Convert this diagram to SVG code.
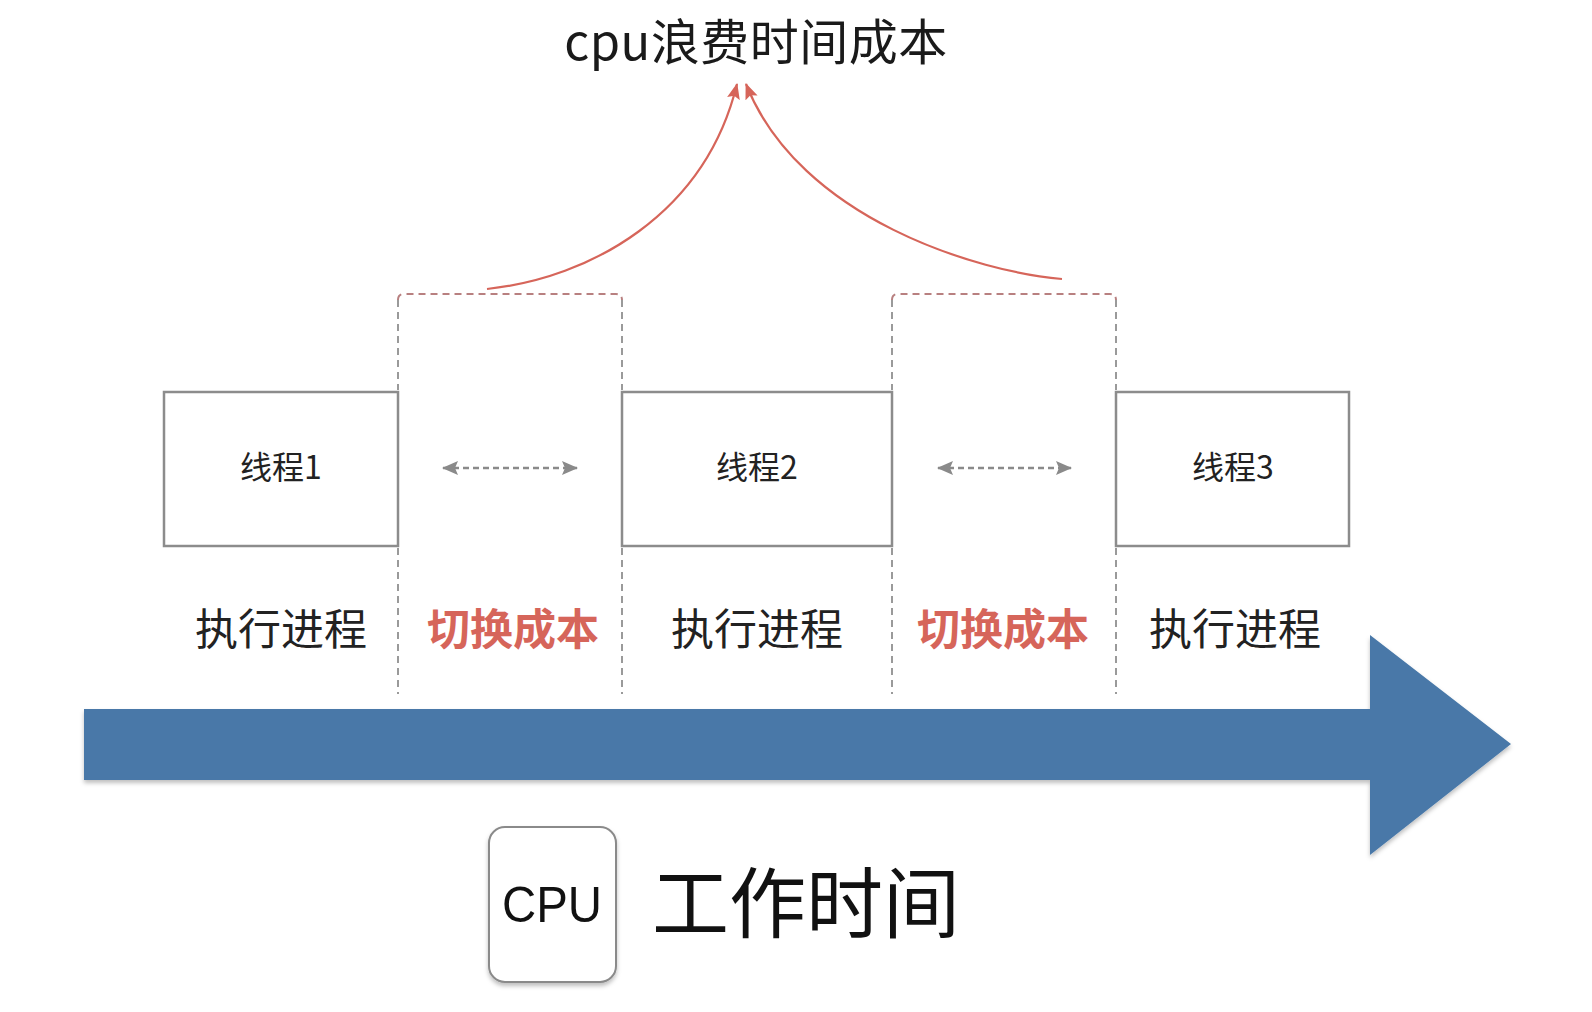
<svg xmlns="http://www.w3.org/2000/svg" width="1592" height="1012" viewBox="0 0 1592 1012">
  <style>
    .cjk { font-family: "Noto Sans CJK SC", "Liberation Sans", sans-serif; }
    .box { fill: #ffffff; stroke: #8c8c8c; stroke-width: 2.5; }
    .lbl { font-size: 32px; fill: #222222; text-anchor: middle; }
    .run { font-size: 43px; fill: #222222; text-anchor: middle; }
    .cost { font-size: 43px; fill: #d6655a; font-weight: bold; text-anchor: middle; }
    .dashv { fill: none; stroke: #9a9a9a; stroke-width: 2; stroke-dasharray: 7 5; }
    .dashtop { fill: none; stroke: #b88080; stroke-width: 2; stroke-dasharray: 7 5; }
    .swap { fill: none; stroke: #8a8a8a; stroke-width: 2.5; stroke-dasharray: 6 4; }
    .waste { fill: none; stroke: #d6655a; stroke-width: 2.2; }
  </style>
  <defs>
    <marker id="grayHead" viewBox="0 0 16 14" refX="15" refY="7" markerWidth="16" markerHeight="14" markerUnits="userSpaceOnUse" orient="auto-start-reverse">
      <path d="M0,0 L16,7 L0,14 L3,7 z" fill="#8a8a8a"/>
    </marker>
    <marker id="redHead" viewBox="0 0 16 13" refX="15" refY="6.5" markerWidth="16" markerHeight="13" markerUnits="userSpaceOnUse" orient="auto">
      <path d="M0,0 L16,6.5 L0,13 L3,6.5 z" fill="#d6655a"/>
    </marker>
    <filter id="softShadow" x="-5%" y="-10%" width="110%" height="130%">
      <feDropShadow dx="0" dy="3" stdDeviation="2" flood-color="#000000" flood-opacity="0.25"/>
    </filter>
  </defs>

  <rect width="1592" height="1012" fill="#ffffff"/>

  <!-- title -->
  <g id="title">
    <text class="cjk" x="756" y="60" font-size="49" fill="#1a1a1a" text-anchor="middle" letter-spacing="0.5">cpu浪费时间成本</text>
  </g>

  <!-- switch-cost brackets -->
  <g id="switch1">
    <path class="dashtop" d="M398,300 Q398,294 404,294 L616,294 Q622,294 622,300"/>
    <line class="dashv" x1="398" y1="300" x2="398" y2="390"/>
    <line class="dashv" x1="622" y1="300" x2="622" y2="390"/>
    <line class="dashv" x1="398" y1="548" x2="398" y2="694"/>
    <line class="dashv" x1="622" y1="548" x2="622" y2="694"/>
    <text class="cjk cost" x="513" y="645">切换成本</text>
  </g>
  <g id="switch2">
    <path class="dashtop" d="M892,300 Q892,294 898,294 L1110,294 Q1116,294 1116,300"/>
    <line class="dashv" x1="892" y1="300" x2="892" y2="390"/>
    <line class="dashv" x1="1116" y1="300" x2="1116" y2="390"/>
    <line class="dashv" x1="892" y1="548" x2="892" y2="694"/>
    <line class="dashv" x1="1116" y1="548" x2="1116" y2="694"/>
    <text class="cjk cost" x="1003" y="645">切换成本</text>
  </g>

  <!-- thread boxes -->
  <g id="thread1">
    <rect class="box" x="164" y="392" width="234" height="154"/>
    <text class="cjk lbl" x="281" y="479">线程1</text>
    <text class="cjk run" x="281" y="645">执行进程</text>
  </g>
  <g id="thread2">
    <rect class="box" x="622" y="392" width="270" height="154"/>
    <text class="cjk lbl" x="757" y="479">线程2</text>
    <text class="cjk run" x="757" y="645">执行进程</text>
  </g>
  <g id="thread3">
    <rect class="box" x="1116" y="392" width="233" height="154"/>
    <text class="cjk lbl" x="1233" y="479">线程3</text>
    <text class="cjk run" x="1235" y="645">执行进程</text>
  </g>

  <!-- connectors -->
  <g id="connectors">
    <line class="swap" x1="443" y1="468" x2="577" y2="468" marker-start="url(#grayHead)" marker-end="url(#grayHead)"/>
    <line class="swap" x1="938" y1="468" x2="1071" y2="468" marker-start="url(#grayHead)" marker-end="url(#grayHead)"/>
    <path class="waste" d="M487,289 C590,278 705,215 737,84" marker-end="url(#redHead)"/>
    <path class="waste" d="M1062,279 C980,272 800,220 746,84" marker-end="url(#redHead)"/>
  </g>

  <!-- timeline arrow -->
  <g id="timeline">
    <path d="M84,709 L1370,709 L1370,635 L1511,744 L1370,855 L1370,780 L84,780 Z" fill="#4878a8" filter="url(#softShadow)"/>
  </g>

  <!-- legend -->
  <g id="cpu">
    <rect x="489" y="827" width="127" height="155" rx="16" ry="16" fill="#ffffff" stroke="#8a8a8a" stroke-width="2" filter="url(#softShadow)"/>
    <text x="552" y="922" font-family="Liberation Sans, sans-serif" font-size="50" fill="#111111" text-anchor="middle" textLength="100" lengthAdjust="spacingAndGlyphs">CPU</text>
  </g>
  <g id="worktime">
    <text class="cjk" x="652" y="932" font-size="77" fill="#111111">工作时间</text>
  </g>
</svg>
